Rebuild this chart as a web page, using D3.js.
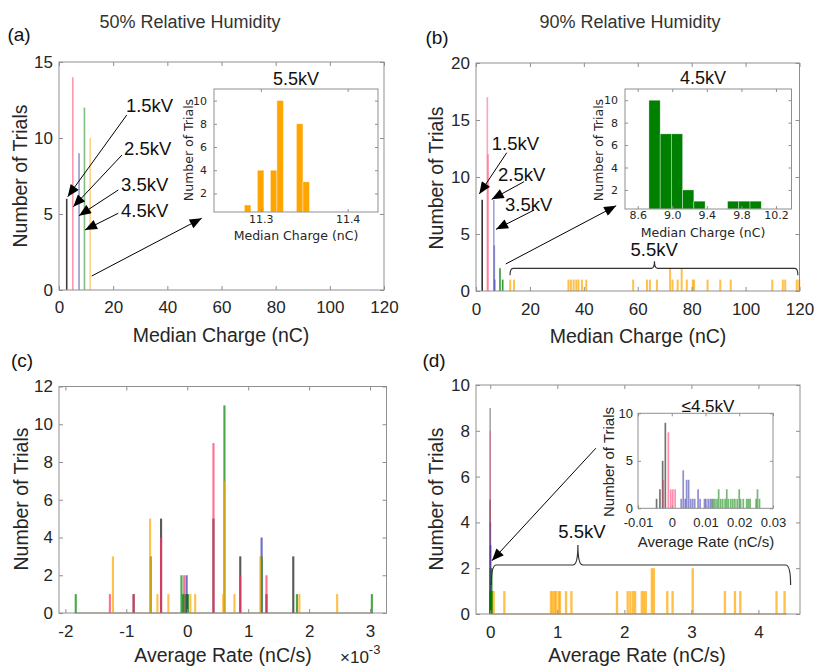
<!DOCTYPE html>
<html>
<head>
<meta charset="utf-8">
<script src="https://cdn.jsdelivr.net/npm/d3@7"></script>
<style>
  body { margin: 0; background: #fff; }
</style>
</head>
<body>
<svg id="fig" width="816" height="668"></svg>
<script>
const svg = d3.select('#fig')
const ARIAL = '"Liberation Sans", Arial, Helvetica, sans-serif'
const DEJAVU = '"DejaVu Sans", Verdana, sans-serif'
const INK = '#262626', FRAME = '#8f8f8f'

// series order everywhere: 1.5kV, 2.5kV, 3.5kV, 4.5kV, 5.5kV
const voltages = ['1.5kV', '2.5kV', '3.5kV', '4.5kV', '5.5kV']
const colors = ['#000000', '#ff3366', '#3333aa', '#008000', '#ffa500']

// (a) 50% RH, median charge (nC) : [bin centre, trials]
const a15 = [[2.85, 6]]
const a25 = [[5.1, 14]]
const a35 = [[7.4, 9]]
const a45 = [[9.4, 12]]
const a55 = [[11.5, 10]]
// (a) inset, 5.5kV histogram
const insetAEdges = [11.281, 11.2885, 11.296, 11.3035, 11.311, 11.3185, 11.326, 11.3335, 11.341, 11.3485, 11.356]
const insetACounts = [1, 0, 4, 0, 4, 10, 0, 0, 8, 3]

// (b) 90% RH, median charge (nC)
const b15 = [[2.3, 8]]
const b25 = [[4.2, 17], [4.5, 12]]
const b35 = [[6.6, 8], [6.8, 4], [7.0, 1]]
const b45 = [[8.9, 2], [9.9, 1]]
const b55 = [[12.7, 1], [14.1, 1], [34.3, 1], [35.2, 1], [36.2, 1], [37.2, 1], [38.0, 1], [39.3, 1],
  [40.9, 1], [58.3, 1], [63.4, 1], [64.5, 1], [67.1, 1], [72.0, 2], [72.9, 1], [74.8, 1], [76.3, 2],
  [78.2, 1], [80.4, 1], [80.9, 1], [85.9, 1], [90.6, 1], [94.5, 1], [109.9, 1], [113.8, 1], [114.7, 1],
  [119.0, 1], [119.9, 1]]
// (b) inset, 4.5kV histogram
const insetBEdges = [8.73, 8.86, 8.99, 9.12, 9.25, 9.38, 9.51, 9.64, 9.77, 9.90, 10.03]
const insetBCounts = [10, 7, 7, 2, 1, 0, 0, 1, 1, 1]

// (c) 50% RH, average rate (x1e-3 nC/s)
const c15 = [[-0.88, 1], [-0.43, 5], [0.0, 1], [0.43, 5], [0.87, 3], [1.30, 1], [1.74, 3]]
const c25 = [[-1.27, 1], [-0.88, 1], [-0.43, 4], [-0.05, 2], [0.43, 9], [0.87, 2], [1.30, 2]]
const c35 = [[-0.01, 2], [1.22, 4]]
const c45 = [[-1.83, 1], [-0.60, 3], [-0.095, 2], [-0.07, 1], [-0.03, 1], [0.01, 1], [0.61, 11],
  [1.22, 3], [1.80, 1], [3.03, 1]]
const c55 = [[-1.22, 3], [-0.61, 5], [-0.49, 1], [-0.31, 1], [0.05, 1], [0.13, 1], [0.59, 1], [0.61, 7],
  [0.775, 1], [1.2, 3], [1.84, 1], [2.46, 1]]

// (d) 90% RH, average rate (nC/s); <=4.5kV series are also the inset data
const d15 = [[-0.0045, 1], [-0.0035, 2], [-0.0027, 5], [-0.0019, 9]]
const d25 = [[-0.0025, 3], [-0.001, 8], [-0.0003, 2], [0.0003, 2], [0.001, 2]]
const d35 = [[0.0028, 1], [0.0034, 4], [0.0040, 1], [0.0044, 3], [0.0050, 3], [0.0056, 1], [0.0062, 1],
  [0.0068, 1], [0.0078, 2], [0.0084, 1], [0.0097, 1], [0.0101, 1], [0.0108, 1], [0.0114, 1], [0.0119, 1]]
const d45 = [[0.0123, 1], [0.0128, 1], [0.0134, 1], [0.0139, 2], [0.0145, 1], [0.0151, 1], [0.0158, 1],
  [0.0163, 2], [0.0168, 1], [0.0175, 1], [0.0181, 1], [0.0187, 1], [0.0194, 1], [0.0200, 2], [0.0204, 1],
  [0.0212, 1], [0.0222, 1], [0.0227, 1], [0.0232, 1], [0.0250, 1], [0.0254, 2], [0.0260, 1]]
const d55 = [[0.05, 1], [0.21, 1], [0.905, 1], [0.93, 1], [0.96, 1], [0.98, 1], [1.02, 1], [1.04, 1],
  [1.13, 1], [1.21, 1], [1.89, 1], [2.05, 1], [2.09, 1], [2.13, 1], [2.16, 1], [2.26, 1], [2.29, 1],
  [2.32, 1], [2.41, 2], [2.44, 2], [2.64, 1], [2.72, 1], [3.02, 2], [3.50, 1], [3.65, 1], [3.73, 1],
  [4.27, 1], [4.39, 1]]

const ticksCharge = [0, 20, 40, 60, 80, 100, 120]

// ---------- helpers ----------
function axes(o) {
  const x = d3.scaleLinear().domain(o.xd).range([o.l, o.r])
  const y = d3.scaleLinear().domain(o.yd).range([o.b, o.t])
  const g = svg.append('g')
  g.append('rect').attr('x', o.l).attr('y', o.t).attr('width', o.r - o.l).attr('height', o.b - o.t)
    .attr('fill', '#fff')
  const marks = g.append('g')
  const tl = o.tl || 4, font = o.font || ARIAL, fmt = o.fmt || (d => String(d))
  const none = () => ''
  const tidy = s => {
    s.select('.domain').remove()
    s.selectAll('line').attr('stroke', FRAME)
    s.selectAll('text').attr('fill', INK).style('font-family', font).style('font-size', o.fs + 'px')
  }
  g.append('g').attr('transform', `translate(0,${o.b})`)
    .call(d3.axisBottom(x).tickValues(o.xt).tickFormat(fmt).tickSizeInner(-tl).tickSizeOuter(0).tickPadding(o.xpad))
    .call(tidy)
  g.append('g').attr('transform', `translate(0,${o.t})`)
    .call(d3.axisTop(x).tickValues(o.xt).tickFormat(none).tickSizeInner(-tl).tickSizeOuter(0))
    .call(tidy)
  g.append('g').attr('transform', `translate(${o.l},0)`)
    .call(d3.axisLeft(y).tickValues(o.yt).tickFormat(o.yfmt || (d => String(d))).tickSizeInner(-tl).tickSizeOuter(0).tickPadding(o.ypad))
    .call(tidy)
  g.append('g').attr('transform', `translate(${o.r},0)`)
    .call(d3.axisRight(y).tickValues(o.yt).tickFormat(none).tickSizeInner(-tl).tickSizeOuter(0))
    .call(tidy)
  g.append('rect').attr('x', o.l).attr('y', o.t).attr('width', o.r - o.l).attr('height', o.b - o.t)
    .attr('fill', 'none').attr('stroke', FRAME).attr('stroke-width', 1)
  return { g, marks, x, y }
}

function bars(ax, data, color, op, w, minW) {
  const base = ax.y(ax.y.domain()[0])
  ax.marks.selectAll(null).data(data).enter().append('rect')
    .attr('x', d => {
      const x0 = ax.x(d[0] - w / 2), x1 = ax.x(d[0] + w / 2)
      return (x0 + x1) / 2 - Math.max(x1 - x0, minW) / 2
    })
    .attr('width', d => Math.max(ax.x(d[0] + w / 2) - ax.x(d[0] - w / 2), minW))
    .attr('y', d => ax.y(d[1]))
    .attr('height', d => base - ax.y(d[1]))
    .attr('fill', color).attr('fill-opacity', op)
}

function hist(ax, edges, counts, color) {
  const base = ax.y(ax.y.domain()[0])
  const bins = counts.map((c, i) => [edges[i], edges[i + 1], c]).filter(b => b[2] > 0)
  ax.marks.selectAll(null).data(bins).enter().append('rect')
    .attr('x', d => ax.x(d[0])).attr('width', d => ax.x(d[1]) - ax.x(d[0]))
    .attr('y', d => ax.y(d[2])).attr('height', d => base - ax.y(d[2]))
    .attr('fill', color).attr('stroke', '#fff').attr('stroke-opacity', 0.6).attr('stroke-width', 0.6)
}

function text(x, y, s, size, opts = {}) {
  const t = svg.append('text').attr('x', x).attr('y', y).text(s)
    .attr('fill', opts.fill || INK).style('font-family', opts.font || ARIAL).style('font-size', size + 'px')
    .attr('text-anchor', opts.anchor || 'middle').attr('dominant-baseline', 'central')
  if (opts.rotate) t.attr('transform', `rotate(-90,${x},${y})`)
  return t
}

svg.append('defs').append('marker').attr('id', 'head')
  .attr('viewBox', '0 0 12 10').attr('refX', 12).attr('refY', 5)
  .attr('markerWidth', 13).attr('markerHeight', 10).attr('markerUnits', 'userSpaceOnUse')
  .attr('orient', 'auto')
  .append('path').attr('d', 'M0,0 L12,5 L0,10 Z').attr('fill', '#000')

function arrow(ax, p, q) {
  svg.append('line').attr('x1', ax.x(p[0])).attr('y1', ax.y(p[1]))
    .attr('x2', ax.x(q[0])).attr('y2', ax.y(q[1]))
    .attr('stroke', '#000').attr('stroke-width', 1).attr('marker-end', 'url(#head)')
}

function brace(x0, x1, xm, y, drop, rise, r) {
  const p = `M${x0},${y + drop} Q${x0},${y} ${x0 + r},${y} L${xm - r},${y} Q${xm},${y} ${xm},${y - rise}` +
    ` Q${xm},${y} ${xm + r},${y} L${x1 - r},${y} Q${x1},${y} ${x1},${y + drop}`
  svg.append('path').attr('d', p).attr('fill', 'none').attr('stroke', '#333').attr('stroke-width', 1.2)
}

// ---------- titles ----------
text(190, 22, '50% Relative Humidity', 18, { fill: '#333' })
text(630, 22, '90% Relative Humidity', 18, { fill: '#333' })
text(19, 34, '(a)', 19, { fill: '#111' })
text(437, 37, '(b)', 19, { fill: '#111' })
text(22, 360, '(c)', 19, { fill: '#111' })
text(434, 360, '(d)', 19, { fill: '#111' })

// ---------- (a) ----------
const A = axes({ l: 59, r: 384, t: 62, b: 290, xd: [0, 120], yd: [0, 15], xt: ticksCharge, yt: [0, 5, 10, 15],
  fs: 17, xpad: 11, ypad: 6 })
;[a15, a25, a35, a45, a55].forEach((s, i) => bars(A, s, colors[i], i === 0 ? 0.75 : 0.5, 0.5, 1.6))
text(20, 176, 'Number of Trials', 19.5, { rotate: true })
text(221, 335, 'Median Charge (nC)', 19.5)
;[[24.7, 12.17], [24.0, 9.34], [22.9, 6.91], [22.9, 5.26]].forEach((p, i) =>
  text(A.x(p[0]), A.y(p[1]), voltages[i], 18.5, { anchor: 'start', fill: '#111' }))
arrow(A, [25.0, 11.51], [3.21, 6.14])
arrow(A, [23.26, 8.88], [5.28, 5.48])
arrow(A, [21.9, 6.58], [7.38, 4.89])
arrow(A, [21.9, 5.05], [9.6, 3.95])
arrow(A, [12.07, 0.92], [52.7, 4.72])

const AI = axes({ l: 214, r: 378, t: 89, b: 212, xd: [11.246, 11.435], yd: [0.4, 11], xt: [11.3, 11.4],
  yt: [2, 4, 6, 8, 10], fs: 11, xpad: 3, ypad: 7, tl: 3, font: DEJAVU, fmt: d3.format('.1f') })
hist(AI, insetAEdges, insetACounts, colors[4])
text(296, 79, '5.5kV', 18, { fill: '#111' })
text(188, 150, 'Number of Trials', 12.5, { rotate: true, font: DEJAVU })
text(296, 235, 'Median Charge (nC)', 12.5, { font: DEJAVU })

// ---------- (b) ----------
const B = axes({ l: 476, r: 799.5, t: 63, b: 291, xd: [0, 120], yd: [0, 20], xt: ticksCharge, yt: [0, 5, 10, 15, 20],
  fs: 17, xpad: 12, ypad: 6 })
;[b15, b25, b35, b45].forEach((s, i) => bars(B, s, colors[i], i === 0 ? 0.8 : (i === 3 ? 0.8 : 0.45), 0.4, 1.6))
bars(B, b55, colors[4], 0.7, 0.75, 2)
text(436, 178, 'Number of Trials', 19.5, { rotate: true })
text(638, 336, 'Median Charge (nC)', 19.5)
;[[5.83, 12.98], [8.17, 10.18], [10.77, 7.63]].forEach((p, i) =>
  text(B.x(p[0]), B.y(p[1]), voltages[i], 18.5, { anchor: 'start', fill: '#111' }))
arrow(B, [11.4, 12.13], [1.23, 8.51])
arrow(B, [17.83, 9.59], [5.83, 8.04])
arrow(B, [21.55, 7.1], [7.43, 5.41])
arrow(B, [11.03, 2.37], [52.0, 7.48])
brace(B.x(12.63), B.x(119.4), B.x(66.2), B.y(1.99), 7, 7, 3)
text(B.x(66.1), B.y(3.6), '5.5kV', 18.5, { fill: '#111' })

const BI = axes({ l: 625, r: 791.5, t: 89, b: 209, xd: [8.453, 10.38], yd: [0.3, 11], xt: [8.6, 9.0, 9.4, 9.8, 10.2],
  yt: [2, 4, 6, 8, 10], fs: 11, xpad: 2, ypad: 7, tl: 3, font: DEJAVU, fmt: d3.format('.1f') })
hist(BI, insetBEdges, insetBCounts, colors[3])
text(703, 78, '4.5kV', 18, { fill: '#111' })
text(598, 150, 'Number of Trials', 12.5, { rotate: true, font: DEJAVU })
text(703, 232, 'Median Charge (nC)', 12.5, { font: DEJAVU })

// ---------- (c) ----------
const C = axes({ l: 59, r: 386.5, t: 386.5, b: 613, xd: [-2.105, 3.27], yd: [0, 12], xt: [-2, -1, 0, 1, 2, 3],
  yt: [0, 2, 4, 6, 8, 10, 12], fs: 17, xpad: 12, ypad: 6 })
C.marks.append('line').attr('x1', C.x(-1.85)).attr('x2', C.x(3.05)).attr('y1', C.y(0)).attr('y2', C.y(0))
  .attr('stroke', '#9a8a6a').attr('stroke-width', 1.2)
;[c15, c25, c35, c45, c55].forEach((s, i) => bars(C, s, colors[i], i === 0 ? 0.65 : 0.7, 0.035, 2))
text(21, 499, 'Number of Trials', 19.5, { rotate: true })
text(223, 655, 'Average Rate (nC/s)', 19.5)
svg.append('text').attr('x', 340).attr('y', 663).attr('fill', INK)
  .style('font-family', ARIAL).style('font-size', '17px')
  .call(t => {
    t.append('tspan').text('\u00d710')
    t.append('tspan').attr('dy', -9).style('font-size', '13px').text('-3')
  })

// ---------- (d) ----------
const D = axes({ l: 476, r: 800, t: 385, b: 614, xd: [-0.213, 4.62], yd: [0, 10], xt: [0, 1, 2, 3, 4],
  yt: [0, 2, 4, 6, 8, 10], fs: 17, xpad: 12, ypad: 6 })
D.marks.append('line').attr('x1', D.x(0)).attr('x2', D.x(4.42)).attr('y1', D.y(0)).attr('y2', D.y(0))
  .attr('stroke', '#b08a50').attr('stroke-width', 1.2)
;[d15, d25, d35, d45].forEach((s, i) => bars(D, s, colors[i], 0.35, 0.0006, 1.6))
bars(D, d55, colors[4], 0.7, 0.035, 2)
text(436, 499, 'Number of Trials', 19.5, { rotate: true })
text(637, 655, 'Average Rate (nC/s)', 19.5)
arrow(D, [1.575, 7.24], [0.025, 2.33])
brace(D.x(0.015), D.x(4.48), D.x(1.307), D.y(2.14), 20, 20, 5)
text(D.x(1.367), D.y(3.62), '5.5kV', 18.5, { fill: '#111' })

const DI = axes({ l: 638, r: 773, t: 413.3, b: 508.3, xd: [-0.01, 0.03], yd: [0, 10], xt: [-0.01, 0, 0.01, 0.02, 0.03],
  yt: [0, 5, 10], fs: 13, xpad: 9, ypad: 5, tl: 3, fmt: d => d === 0 ? '0' : d.toFixed(2) })
;[d15, d25, d35, d45].forEach((s, i) => bars(DI, s, colors[i], 0.55, 0.0005, 1.6))
text(708, 406, '\u22644.5kV', 17, { fill: '#111' })
text(608, 462, 'Number of Trials', 15, { rotate: true })
text(706, 541, 'Average Rate (nC/s)', 15)
</script>
</body>
</html>
